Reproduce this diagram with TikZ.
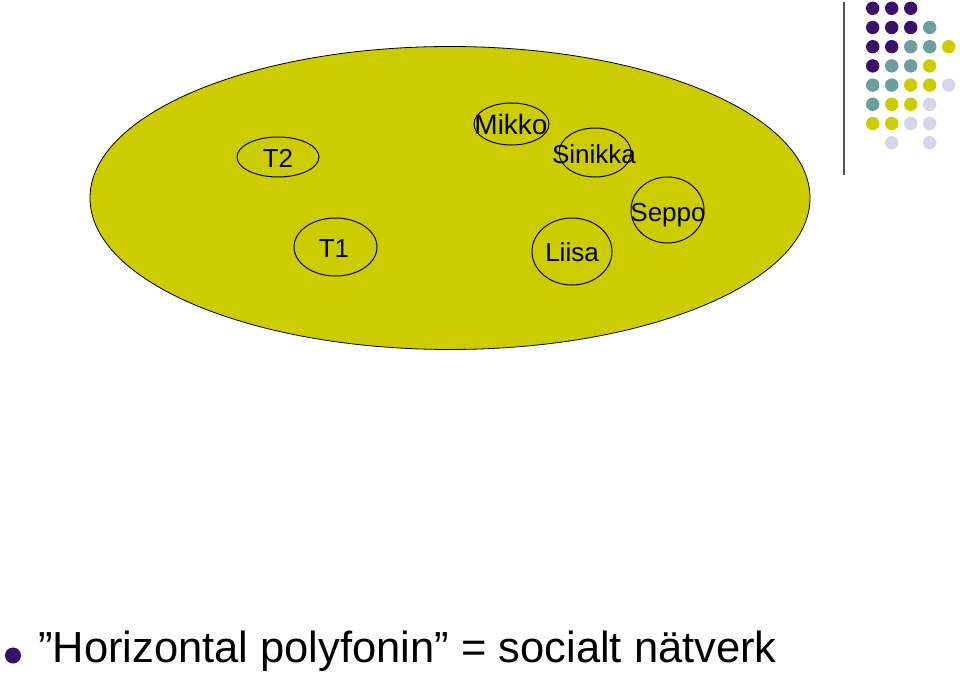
\documentclass[tikz,border=0pt]{standalone}
\usepackage{fontspec}
\setmainfont{Liberation Sans}
\usetikzlibrary{shapes.geometric}
\definecolor{olive}{HTML}{CCCC00}
\definecolor{dpurple}{HTML}{3A0F6A}
\definecolor{dteal}{HTML}{6B9E9E}
\definecolor{dlav}{HTML}{D6D6EA}
\definecolor{gline}{HTML}{555555}
\tikzset{
  bigoval/.style={draw=black, line width=0.8pt, fill=olive, ellipse, inner sep=0pt},
  oval/.style={draw=black, line width=1pt, ellipse, inner sep=0pt},
  lab/.style={font=\fontsize{26}{26}\selectfont, inner sep=0pt, anchor=base},
  dotP/.style={fill=dpurple},
  dotT/.style={fill=dteal},
  dotY/.style={fill=olive},
  dotL/.style={fill=dlav},
  dotN/.style={fill=none, draw=none},
}
\begin{document}
\begin{tikzpicture}[x=1pt,y=-1pt]
\useasboundingbox (0,0) rectangle (960,674);
% big ellipse
\node[bigoval, minimum width=720pt, minimum height=303pt] (group) at (450,198) {};
% small ellipses
\node[oval, minimum width=82pt, minimum height=40pt] (t2o) at (278,157) {};
\node[oval, minimum width=83pt, minimum height=58pt] (t1o) at (335.5,247) {};
\node[oval, minimum width=75pt, minimum height=42pt] (mikkoo) at (511.5,124) {};
\node[oval, minimum width=72pt, minimum height=49pt] (sinikkao) at (595,152.5) {};
\node[oval, minimum width=73pt, minimum height=66pt] (seppoo) at (667.5,210) {};
\node[oval, minimum width=80pt, minimum height=67pt] (liisao) at (572,251.5) {};
% labels
\node[lab] (t2) at (278,167) {T2};
\node[lab] (t1) at (334,257) {T1};
\node[lab, font=\fontsize{28}{28}\selectfont] (mikko) at (511,134) {Mikko};
\node[lab] (sinikka) at (594,163) {Sinikka};
\node[lab] (seppo) at (668,221) {Seppo};
\node[lab] (liisa) at (572,261) {Liisa};
% decorative line and dot grid
\draw[gline, line width=2pt] (844,2) -- (844,175);
\foreach \r/\row in {0/{P,P,P,N,N},1/{P,P,P,T,N},2/{P,P,T,T,Y},3/{P,T,T,Y,N},4/{T,T,Y,Y,L},5/{T,Y,Y,L,N},6/{Y,Y,L,L,N},7/{N,L,N,L,N}}{
  \foreach \c [count=\k from 0] in \row {
    \path[dot\c] ({872.7+19*\k},{8.3+19.2*\r}) circle (6.7pt);
  }
}
% bullet and text
\fill[dpurple] (13,655.5) circle (8pt);
\node[font=\fontsize{43.5}{43.5}\selectfont, inner sep=0pt, anchor=base west] (title) at (38,662) {”Horizontal polyfonin” = socialt nätverk};
\end{tikzpicture}
\end{document}
